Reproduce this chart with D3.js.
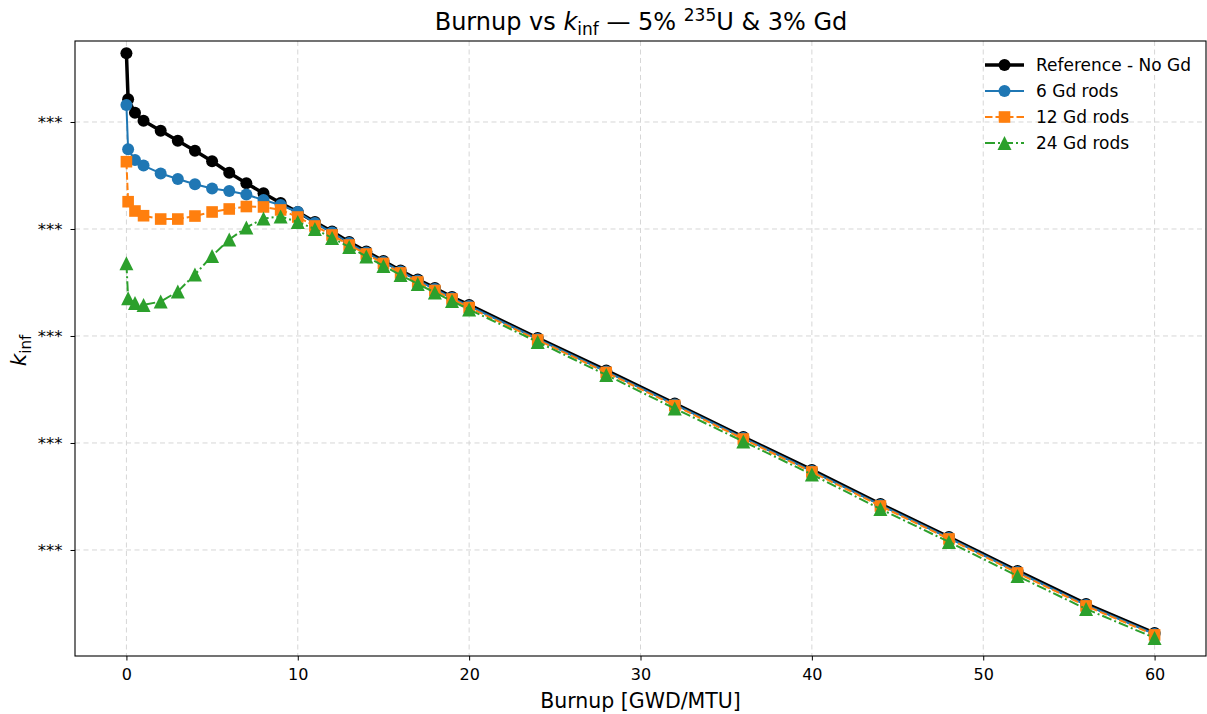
<!DOCTYPE html>
<html>
<head>
<meta charset="utf-8">
<script src="https://cdn.jsdelivr.net/npm/d3@7"></script>
<style>
  html, body { margin: 0; padding: 0; background: #fff; }
  svg { display: block; font-family: "DejaVu Sans", sans-serif; }
</style>
</head>
<body>
<svg id="chart" width="1207" height="714"></svg>
<script>
// Burnup steps [GWD/MTU]
const burnup = [0, 0.1, 0.5, 1, 2, 3, 4, 5, 6, 7, 8, 9, 10, 11, 12, 13, 14, 15, 16, 17, 18, 19, 20,
                24, 28, 32, 36, 40, 44, 48, 52, 56, 60];

// k-inf per case
const kRef = [1.3642, 1.3212, 1.3087, 1.3012, 1.2919, 1.2825, 1.2732, 1.2633, 1.2526, 1.2427, 1.2334, 1.2243,
              1.2159, 1.2065, 1.1977, 1.1879, 1.1790, 1.1701, 1.1612, 1.1528, 1.1449, 1.1364, 1.1290,
              1.0981, 1.0678, 1.0369, 1.0056, 0.9748, 0.9430, 0.9121, 0.8804, 0.8496, 0.8224];
const kGd6 = [1.3159, 1.2745, 1.2645, 1.2593, 1.2519, 1.2467, 1.2418, 1.2379, 1.2355, 1.2322, 1.2271, 1.2224,
              1.2159, 1.2056, 1.1967, 1.1869, 1.1780, 1.1692, 1.1603, 1.1519, 1.1439, 1.1355, 1.1280,
              1.0972, 1.0668, 1.0360, 1.0047, 0.9738, 0.9421, 0.9112, 0.8794, 0.8486, 0.8215];
const kGd12 = [1.2629, 1.2255, 1.2168, 1.2124, 1.2093, 1.2093, 1.2121, 1.2159, 1.2187, 1.2210, 1.2206, 1.2178,
               1.2112, 1.2028, 1.1944, 1.1850, 1.1766, 1.1678, 1.1589, 1.1505, 1.1425, 1.1346, 1.1266,
               1.0963, 1.0659, 1.0350, 1.0037, 0.9729, 0.9411, 0.9103, 0.8785, 0.8477, 0.8206];
const kGd24 = [1.1679, 1.1352, 1.1308, 1.1290, 1.1322, 1.1416, 1.1575, 1.1748, 1.1902, 1.2014, 1.2098, 1.2117,
               1.2065, 1.2000, 1.1916, 1.1832, 1.1743, 1.1654, 1.1570, 1.1486, 1.1407, 1.1327, 1.1248,
               1.0944, 1.0636, 1.0322, 1.0014, 0.9706, 0.9383, 0.9075, 0.8757, 0.8449, 0.8178];

const seriesNames = ["Reference - No Gd", "6 Gd rods", "12 Gd rods", "24 Gd rods"];
const xTicks = [0, 10, 20, 30, 40, 50, 60];
const yTicks = [0.9, 1.0, 1.1, 1.2, 1.3];
const yTickLabels = ["***", "***", "***", "***", "***"];

const svg = d3.select("#chart");
const plot = { left: 75, right: 1206, top: 41, bottom: 656 };

const x = d3.scaleLinear().domain([-3, 63]).range([plot.left, plot.right]);
const y = d3.scaleLinear().domain([0.8009, 1.3757]).range([plot.bottom, plot.top]);

// grid
const grid = svg.append("g");
grid.selectAll("line.gx").data(xTicks).enter().append("line")
  .attr("x1", d => x(d)).attr("x2", d => x(d))
  .attr("y1", plot.top).attr("y2", plot.bottom)
  .attr("stroke", "#d6d6d6").attr("stroke-width", 1).attr("stroke-dasharray", "5,3.5");
grid.selectAll("line.gy").data(yTicks).enter().append("line")
  .attr("x1", plot.left).attr("x2", plot.right)
  .attr("y1", d => y(d)).attr("y2", d => y(d))
  .attr("stroke", "#d6d6d6").attr("stroke-width", 1).attr("stroke-dasharray", "5,3.5");

// series definitions
const series = [
  { name: seriesNames[0], values: kRef,  color: "#000000", width: 3.5, dash: null,       marker: "circle",   size: 6 },
  { name: seriesNames[1], values: kGd6,  color: "#1f77b4", width: 2,   dash: null,       marker: "circle",   size: 6 },
  { name: seriesNames[2], values: kGd12, color: "#ff7f0e", width: 2,   dash: "7.5,3",    marker: "square",   size: 5.8 },
  { name: seriesNames[3], values: kGd24, color: "#2ca02c", width: 2,   dash: "10,3,2,3", marker: "triangle", size: 7 }
];

svg.append("clipPath").attr("id", "plotclip").append("rect")
  .attr("x", plot.left).attr("y", plot.top)
  .attr("width", plot.right - plot.left).attr("height", plot.bottom - plot.top);

const line = d3.line().x(d => x(d[0])).y(d => y(d[1]));

function drawMarker(g, type, cx, cy, s, color) {
  if (type === "circle") {
    g.append("circle").attr("cx", cx).attr("cy", cy).attr("r", s).attr("fill", color);
  } else if (type === "square") {
    g.append("rect").attr("x", cx - s).attr("y", cy - s).attr("width", 2 * s).attr("height", 2 * s).attr("fill", color);
  } else {
    g.append("path")
      .attr("d", `M${cx},${cy - s}L${cx + s},${cy + s}L${cx - s},${cy + s}Z`)
      .attr("fill", color);
  }
}

const layer = svg.append("g").attr("clip-path", "url(#plotclip)");
series.forEach(s => {
  const pts = burnup.map((b, i) => [b, s.values[i]]);
  const g = layer.append("g");
  g.append("path").datum(pts).attr("d", line)
    .attr("fill", "none").attr("stroke", s.color).attr("stroke-width", s.width)
    .attr("stroke-dasharray", s.dash).attr("stroke-linejoin", "round");
  pts.forEach(p => drawMarker(g, s.marker, x(p[0]), y(p[1]), s.size, s.color));
});

// frame
svg.append("rect").attr("x", plot.left).attr("y", plot.top)
  .attr("width", plot.right - plot.left).attr("height", plot.bottom - plot.top)
  .attr("fill", "none").attr("stroke", "#000").attr("stroke-width", 1.1);

// axes
const xAxis = d3.axisBottom(x).tickValues(xTicks).tickSize(4.5).tickPadding(8).tickFormat(d3.format("d"));
const gx = svg.append("g").attr("transform", `translate(0,${plot.bottom})`).call(xAxis);
gx.select(".domain").remove();
gx.selectAll("text").attr("font-size", 16).attr("font-family", "DejaVu Sans").attr("fill", "#000");
gx.selectAll("line").attr("stroke", "#000");

const yAxis = d3.axisLeft(y).tickValues(yTicks).tickSize(4.5).tickPadding(8)
  .tickFormat((d, i) => yTickLabels[i]);
const gy = svg.append("g").attr("transform", `translate(${plot.left},0)`).call(yAxis);
gy.select(".domain").remove();
gy.selectAll("text").attr("font-size", 16.5).attr("font-family", "DejaVu Sans").attr("fill", "#000");
gy.selectAll("line").attr("stroke", "#000");

// axis labels
svg.append("text").attr("x", (plot.left + plot.right) / 2).attr("y", 708)
  .attr("text-anchor", "middle").attr("font-size", 20.5).text("Burnup [GWD/MTU]");

const yl = svg.append("text")
  .attr("transform", `translate(26,${(plot.top + plot.bottom) / 2 + 2}) rotate(-90)`)
  .attr("text-anchor", "middle").attr("font-size", 21.5);
yl.append("tspan").attr("font-style", "italic").text("k");
yl.append("tspan").attr("font-size", 15).attr("dy", 5).text("inf");

// title
const title = svg.append("text").attr("x", 641).attr("y", 30)
  .attr("text-anchor", "middle").attr("font-size", 24);
title.append("tspan").text("Burnup vs ");
title.append("tspan").attr("font-style", "italic").text("k");
title.append("tspan").attr("font-size", 17).attr("dy", 5).text("inf");
title.append("tspan").attr("dy", -5).text(" — 5% ");
title.append("tspan").attr("font-size", 17).attr("dy", -9).text("235");
title.append("tspan").attr("dy", 9).text("U & 3% Gd");

// legend
const legend = svg.append("g");
series.forEach((s, i) => {
  const ly = 65 + i * 26;
  const g = legend.append("g");
  g.append("line").attr("x1", 985).attr("x2", 1024).attr("y1", ly).attr("y2", ly)
    .attr("stroke", s.color).attr("stroke-width", s.width).attr("stroke-dasharray", s.dash);
  drawMarker(g, s.marker, 1004.5, ly, s.size, s.color);
  g.append("text").attr("x", 1036).attr("y", ly + 6).attr("font-size", 17).text(s.name);
});
</script>
</body>
</html>
